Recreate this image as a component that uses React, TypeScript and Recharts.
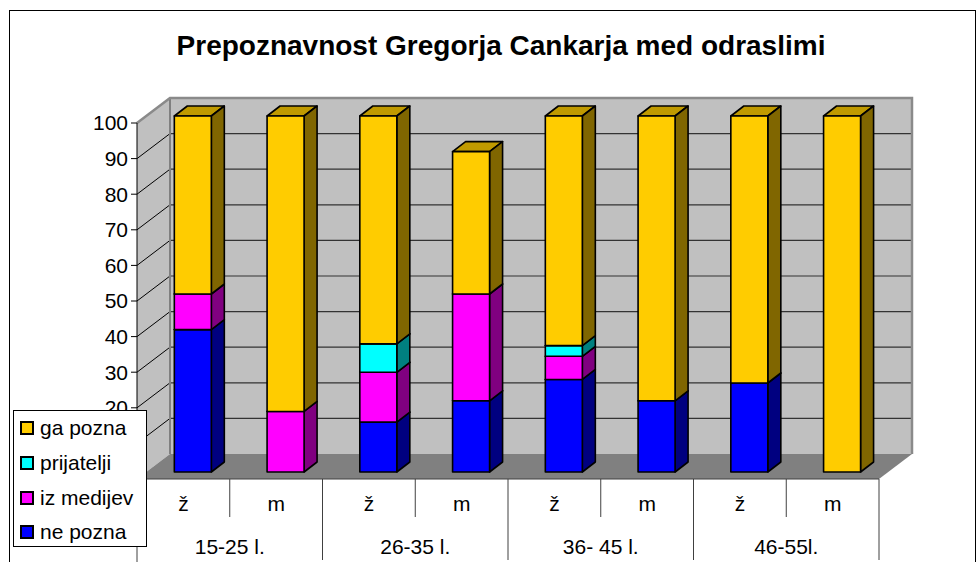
import React from 'react';
import { BarChart, Bar, XAxis, YAxis, ReferenceArea, Legend } from 'recharts';

// ---- data ----
const sexLabels = ['ž', 'm', 'ž', 'm', 'ž', 'm', 'ž', 'm'];
const ageGroups = ['15-25 l.', '26-35 l.', '36- 45 l.', '46-55l.'];
const nePozna = [40, 0, 14, 20, 26, 20, 25, 0];
const izMedijev = [10, 17, 14, 30, 6.5, 0, 0, 0];
const prijatelji = [0, 0, 8, 0, 3, 0, 0, 0];
const gaPozna = [50, 83, 64, 40, 64.5, 80, 75, 100];
const yTicks = [0, 10, 20, 30, 40, 50, 60, 70, 80, 90, 100];
const title = 'Prepoznavnost Gregorja Cankarja med odraslimi';

const data = sexLabels.map((sex, i) => ({
  sex,
  group: ageGroups[Math.floor(i / 2)],
  nePozna: nePozna[i],
  izMedijev: izMedijev[i],
  prijatelji: prijatelji[i],
  gaPozna: gaPozna[i],
}));

const series = [
  { key: 'nePozna', name: 'ne pozna', front: '#0000FF', side: '#000080', top: '#0000C0' },
  { key: 'izMedijev', name: 'iz medijev', front: '#FF00FF', side: '#800080', top: '#C000C0' },
  { key: 'prijatelji', name: 'prijatelji', front: '#00FFFF', side: '#008080', top: '#00C0C0' },
  { key: 'gaPozna', name: 'ga pozna', front: '#FFCC00', side: '#806600', top: '#C09A00' },
];

const FONT = "'Liberation Sans', Arial, Helvetica, sans-serif";

// 3D geometry
const WALL_DX = 33;
const WALL_DY = -25;
const FRONT_DX = 9.5;
const FRONT_DY = -7;
const BAR_DX = 13;
const BAR_DY = -10;

const SEX_AXIS = 'a_sex';
const GRP_AXIS = 'b_grp';

function Walls(props: any) {
  const { x, y, width, height } = props;
  if (x == null || width == null) return null;
  const bx = x + WALL_DX;
  const by = y + WALL_DY;
  const bottom = y + height;
  const n = data.length;
  const band = width / n;
  const yOf = (v: number) => y + height * (1 - v / 100);
  const inner = yTicks.filter((v) => v > 0 && v < 100);
  return (
    <g>
      <rect x={bx} y={by} width={width} height={height} fill="#C0C0C0" />
      <polygon
        points={`${x},${y} ${bx},${by} ${bx},${bottom + WALL_DY} ${x},${bottom}`}
        fill="#C0C0C0"
      />
      <polygon
        points={`${x},${bottom} ${bx},${bottom + WALL_DY} ${bx + width},${bottom + WALL_DY} ${x + width},${bottom}`}
        fill="#808080"
      />
      {inner.map((v) => (
        <line key={'g' + v} x1={bx} x2={bx + width} y1={yOf(v) + WALL_DY} y2={yOf(v) + WALL_DY} stroke="#333" strokeWidth={1.2} />
      ))}
      {inner.map((v) => (
        <line key={'d' + v} x1={x} y1={yOf(v)} x2={bx} y2={yOf(v) + WALL_DY} stroke="#000" strokeWidth={1} />
      ))}
      <line x1={bx} y1={by} x2={bx} y2={bottom + WALL_DY} stroke="#808080" strokeWidth={2} />
      <polyline
        points={`${x},${y} ${bx},${by} ${bx + width},${by} ${bx + width},${bottom + WALL_DY}`}
        fill="none"
        stroke="#8a8a8a"
        strokeWidth={2.5}
      />
      <line x1={x} y1={bottom} x2={x + width} y2={bottom} stroke="#404040" strokeWidth={1.2} />
      {data.map((_, i) => {
        const xx = x + band * i;
        if (i % 2 === 1) {
          return <line key={'i' + i} x1={xx} x2={xx} y1={bottom} y2={bottom + 38} stroke="#404040" strokeWidth={1} />;
        }
        return <line key={'o' + i} x1={xx} x2={xx} y1={bottom} y2={i === 0 ? bottom + 90 : bottom + 81} stroke="#404040" strokeWidth={1} />;
      })}
      <line x1={x + width} x2={x + width} y1={bottom} y2={bottom + 81} stroke="#404040" strokeWidth={1} />
    </g>
  );
}

function Box3D(props: any) {
  const { x, y, width, height, info } = props;
  if (!height || height <= 0 || x == null) return <g />;
  const fx = x + FRONT_DX;
  const fy = y + FRONT_DY;
  const w = width;
  const h = height;
  const common = { stroke: '#000', strokeWidth: 1.6, strokeLinejoin: 'round' as const };
  return (
    <g>
      <polygon
        points={`${fx},${fy} ${fx + BAR_DX},${fy + BAR_DY} ${fx + w + BAR_DX},${fy + BAR_DY} ${fx + w},${fy}`}
        fill={info.top}
        {...common}
      />
      <polygon
        points={`${fx + w},${fy} ${fx + w + BAR_DX},${fy + BAR_DY} ${fx + w + BAR_DX},${fy + h + BAR_DY} ${fx + w},${fy + h}`}
        fill={info.side}
        {...common}
      />
      <rect x={fx} y={fy} width={w} height={h} fill={info.front} {...common} />
    </g>
  );
}

function GroupTick(props: any) {
  const { x, y, payload, index } = props;
  if (index % 2 !== 0) return null;
  const off = payload && payload.offset ? payload.offset : 0;
  return (
    <text x={x + off} y={y} dy="0.71em" textAnchor="middle" fill="#000" fontSize={21} fontFamily={FONT}>
      {payload.value}
    </text>
  );
}

function YTick(props: any) {
  const { x, y, payload } = props;
  // the two lowest labels are hidden behind the legend box in the original
  if (payload.value < 20) return null;
  return (
    <text x={x} y={y} dy="0.355em" textAnchor="end" fill="#000" fontSize={21} fontFamily={FONT}>
      {payload.value}
    </text>
  );
}

const renderLegend = (props: any) => {
  const payload = (props.payload || []).slice();
  const order = (v: any) => series.findIndex((s) => s.name === v.value);
  payload.sort((a: any, b: any) => order(b) - order(a));
  return (
    <div
      style={{
        boxSizing: 'border-box',
        width: 134,
        height: 137,
        background: '#fff',
        border: '1px solid #000',
        padding: '0 0 0 6px',
        fontFamily: FONT,
        fontSize: 21,
        color: '#000',
      }}
    >
      {payload.map((p: any) => (
        <div key={p.value} style={{ height: 34.7, display: 'flex', alignItems: 'center' }}>
          <span
            style={{
              display: 'inline-block',
              width: 14,
              height: 14,
              boxSizing: 'border-box',
              border: '2px solid #000',
              background: p.color,
              marginRight: 6,
            }}
          />
          <span>{p.value}</span>
        </div>
      ))}
    </div>
  );
};

export default function App() {
  const tickStyle = { fill: '#000', fontSize: 21, fontFamily: FONT };
  return (
    <div style={{ position: 'absolute', left: 0, top: 0, width: 977, height: 562, background: '#fff', overflow: 'hidden', fontFamily: FONT }}>
      <div
        style={{
          position: 'absolute',
          left: 9,
          top: 10,
          width: 967,
          height: 600,
          border: '1px solid #000',
          boxSizing: 'border-box',
        }}
      />
      <div
        style={{
          position: 'absolute',
          left: 101,
          width: 800,
          top: 30,
          lineHeight: '31px',
          textAlign: 'center',
          fontSize: 28,
          fontWeight: 'bold',
          fontFamily: FONT,
          color: '#000',
          zIndex: 2,
        }}
      >
        {title}
      </div>
      <div style={{ position: 'absolute', left: 0, top: 0 }}>
        <BarChart
          width={977}
          height={562}
          data={data}
          margin={{ top: 123, right: 98, bottom: 0, left: 77 }}
          barCategoryGap="30%"
        >
          <XAxis
            xAxisId={SEX_AXIS}
            dataKey="sex"
            height={40}
            interval={0}
            tickLine={false}
            axisLine={false}
            tickSize={0}
            tickMargin={17}
            tick={tickStyle}
          />
          <XAxis
            xAxisId={GRP_AXIS}
            dataKey="group"
            height={43}
            interval={0}
            tickLine={false}
            axisLine={false}
            tickSize={0}
            tickMargin={20}
            tick={<GroupTick />}
          />
          <YAxis
            width={60}
            domain={[0, 100]}
            ticks={yTicks}
            interval={0}
            tickSize={6}
            tickMargin={3}
            axisLine={{ stroke: '#000' }}
            tickLine={{ stroke: '#000' }}
            tick={<YTick />}
          />
          <ReferenceArea
            xAxisId={SEX_AXIS}
            y1={0}
            y2={100}
            ifOverflow="visible"
            shape={(p: any) => <Walls {...p} />}
          />
          {series.map((s) => (
            <Bar
              key={s.key}
              xAxisId={SEX_AXIS}
              dataKey={s.key}
              name={s.name}
              stackId="a"
              fill={s.front}
              isAnimationActive={false}
              shape={(p: any) => <Box3D {...p} info={s} />}
            />
          ))}
          <Legend
            layout="vertical"
            align="center"
            verticalAlign="middle"
            wrapperStyle={{ position: 'absolute', left: 13, top: 410, width: 134, height: 137 }}
            content={renderLegend}
          />
        </BarChart>
      </div>
    </div>
  );
}
